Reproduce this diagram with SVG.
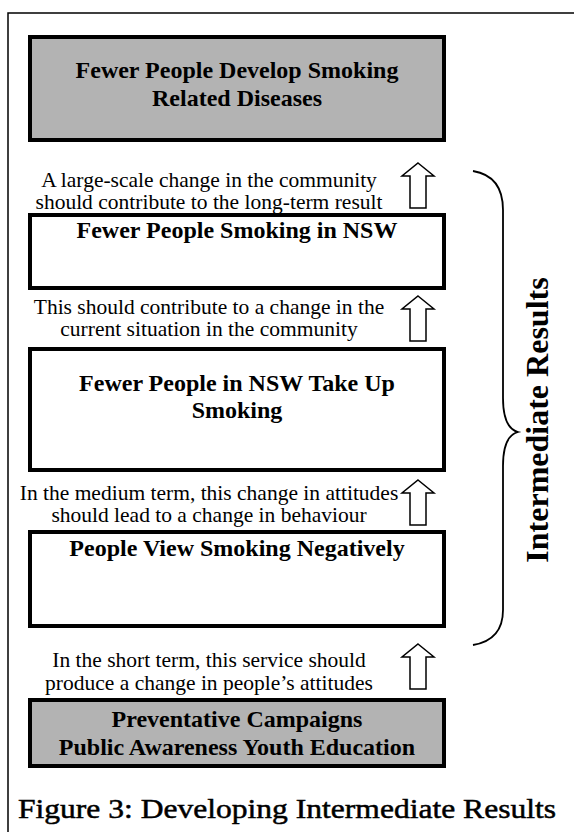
<svg xmlns="http://www.w3.org/2000/svg" width="574" height="832" viewBox="0 0 574 832">
<style>
.box{stroke:#000;stroke-width:4}
.grey{fill:#b3b3b3}
.white{fill:#fff}
.bt{font-family:"Liberation Serif","Times New Roman",serif;font-weight:bold;font-size:24px;fill:#000;text-anchor:middle}
.lt{font-family:"Liberation Serif","Times New Roman",serif;font-size:21.5px;fill:#000;text-anchor:middle}
.arr{fill:#fff;stroke:#000;stroke-width:1.5;stroke-linejoin:miter}
.cap{font-family:"Liberation Serif","Times New Roman",serif;font-size:28px;fill:#000;stroke:#000;stroke-width:0.5}
</style>
<defs>
<path id="ua" d="M0,0 L16,13 L8,13 L8,45 L-8,45 L-8,13 L-16,13 Z"/>
</defs>
<rect x="8" y="13" width="600" height="900" fill="#fff" stroke="#000" stroke-width="1.5"/>
<g id="n1"><rect class="box grey" x="30" y="37" width="414" height="103"/><text class="bt" x="237" y="78">Fewer People Develop Smoking</text><text class="bt" x="237" y="106">Related Diseases</text></g>
<g id="n2"><rect class="box white" x="30" y="215" width="414" height="73"/><text class="bt" x="237" y="238">Fewer People Smoking in NSW</text></g>
<g id="n3"><rect class="box white" x="30" y="349" width="414" height="121"/><text class="bt" x="237" y="391">Fewer People in NSW Take Up</text><text class="bt" x="237" y="418">Smoking</text></g>
<g id="n4"><rect class="box white" x="30" y="532" width="414" height="94"/><text class="bt" x="237" y="556">People View Smoking Negatively</text></g>
<g id="n5"><rect class="box grey" x="30" y="700" width="414" height="66"/><text class="bt" x="237" y="727">Preventative Campaigns</text><text class="bt" x="237" y="755">Public Awareness Youth Education</text></g>
<g id="labels">
<text class="lt" x="209" y="187">A large-scale change in the community</text>
<text class="lt" x="209" y="209">should contribute to the long-term result</text>
<text class="lt" x="209" y="314">This should contribute to a change in the</text>
<text class="lt" x="209" y="336">current situation in the community</text>
<text class="lt" x="209" y="500">In the medium term, this change in attitudes</text>
<text class="lt" x="209" y="522">should lead to a change in behaviour</text>
<text class="lt" x="209" y="667">In the short term, this service should</text>
<text class="lt" x="209" y="690">produce a change in people’s attitudes</text>
</g>
<g id="connectors">
<use href="#ua" class="arr" x="418" y="163"/>
<use href="#ua" class="arr" x="418" y="296"/>
<use href="#ua" class="arr" x="418" y="480"/>
<use href="#ua" class="arr" x="418" y="644"/>
</g>
<g id="brace">
<path d="M473,171 Q503,176 503,210 L503,398 Q503,428 518,432 Q503,436 503,466 L503,610 Q503,640 473,645" fill="none" stroke="#000" stroke-width="1.8"/>
<text class="bt" transform="translate(548,420) rotate(-90)" style="font-size:32px">Intermediate Results</text>
</g>
<text class="cap" x="18" y="818" textLength="538" lengthAdjust="spacingAndGlyphs">Figure 3: Developing Intermediate Results</text>
</svg>
